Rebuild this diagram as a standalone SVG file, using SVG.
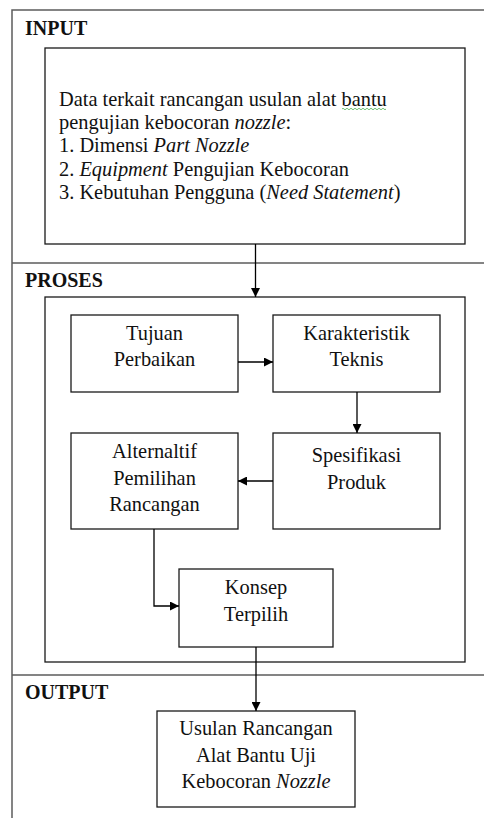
<svg xmlns="http://www.w3.org/2000/svg" width="484" height="818" viewBox="0 0 484 818">
<defs>
<marker id="ah" viewBox="0 0 10 10" refX="10" refY="5" markerWidth="10" markerHeight="9" markerUnits="userSpaceOnUse" orient="auto">
<path d="M0,0 L10,5 L0,10 Z" fill="#000"/>
</marker>
</defs>
<style>
.frame{stroke:#5c5c5c;stroke-width:1.5;fill:none}
.box{fill:#fff;stroke:#1a1a1a;stroke-width:1.3}
.t{font-family:"Liberation Serif","Times New Roman",serif;font-size:20.4px;fill:#111}
.c{text-anchor:middle}
.h{font-weight:bold;font-size:20px}
.conn{stroke:#000;stroke-width:1.3;fill:none}
</style>
<rect x="0" y="0" width="484" height="818" fill="#fff"/>
<g id="frame">
<path class="frame" d="M12,818 V10 H484 M12,263 H484 M12,675 H484"/>
<text class="t h" x="25" y="35">INPUT</text>
<text class="t h" x="25" y="287">PROSES</text>
<text class="t h" x="25" y="699">OUTPUT</text>
</g>
<g id="input">
<rect class="box" x="45" y="48" width="420" height="196"/>
<text class="t" x="59" y="106">Data terkait rancangan usulan alat bantu</text>
<path d="M342,109 q1,-1.5 2,0 t2,0 t2,0 t2,0 t2,0 t2,0 t2,0 t2,0 t2,0 t2,0 t2,0 t2,0 t2,0 t2,0 t2,0 t2,0 t2,0 t2,0 t2,0 t2,0 t2,0 t2,0" stroke="#4caf50" stroke-width="0.8" fill="none"/>
<text class="t" x="59" y="129">pengujian kebocoran <tspan font-style="italic">nozzle</tspan>:</text>
<text class="t" x="59" y="152">1. Dimensi <tspan font-style="italic">Part Nozzle</tspan></text>
<text class="t" x="59" y="176">2. <tspan font-style="italic">Equipment</tspan> Pengujian Kebocoran</text>
<text class="t" x="59" y="199">3. Kebutuhan Pengguna (<tspan font-style="italic">Need Statement</tspan>)</text>
</g>
<g id="proses">
<rect class="box" x="45" y="297" width="420" height="365"/>
</g>
<g id="tujuan">
<rect class="box" x="71" y="315" width="167" height="77"/>
<text class="t c" x="154.5" y="340">Tujuan</text>
<text class="t c" x="154.5" y="366">Perbaikan</text>
</g>
<g id="karakteristik">
<rect class="box" x="273" y="315" width="167" height="77"/>
<text class="t c" x="356.5" y="340">Karakteristik</text>
<text class="t c" x="356.5" y="366">Teknis</text>
</g>
<g id="alternatif">
<rect class="box" x="71" y="433" width="167" height="96"/>
<text class="t c" x="154.5" y="458">Alternaltif</text>
<text class="t c" x="154.5" y="485">Pemilihan</text>
<text class="t c" x="154.5" y="511">Rancangan</text>
</g>
<g id="spesifikasi">
<rect class="box" x="273" y="433" width="167" height="96"/>
<text class="t c" x="356.5" y="462">Spesifikasi</text>
<text class="t c" x="356.5" y="489">Produk</text>
</g>
<g id="konsep">
<rect class="box" x="179" y="569" width="154" height="78"/>
<text class="t c" x="256" y="594">Konsep</text>
<text class="t c" x="256" y="621">Terpilih</text>
</g>
<g id="output">
<rect class="box" x="157" y="711" width="198" height="96"/>
<text class="t c" x="256" y="735">Usulan Rancangan</text>
<text class="t c" x="256" y="762">Alat Bantu Uji</text>
<text class="t c" x="256" y="788">Kebocoran <tspan font-style="italic">Nozzle</tspan></text>
</g>
<g id="connectors">
<path class="conn" d="M255.5,244 V297" marker-end="url(#ah)"/>
<path class="conn" d="M238,362 H273" marker-end="url(#ah)"/>
<path class="conn" d="M357,392 V433" marker-end="url(#ah)"/>
<path class="conn" d="M273,481 H238" marker-end="url(#ah)"/>
<path class="conn" d="M154,529 V606 H179" marker-end="url(#ah)"/>
<path class="conn" d="M256,647 V711" marker-end="url(#ah)"/>
</g>
</svg>
